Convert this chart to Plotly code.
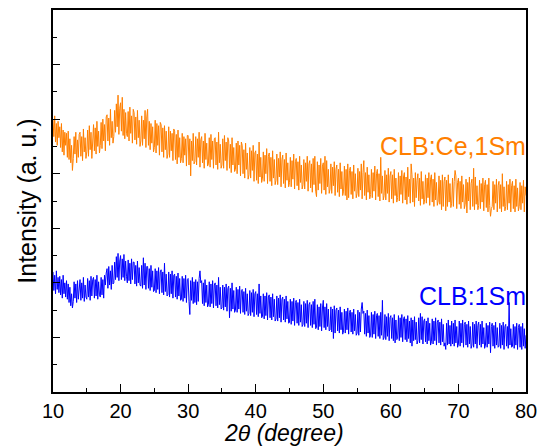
import numpy as np
import plotly.graph_objects as go

# Intensity (a.u.), CLB:Ce,1Sm (orange), 2theta 10..80 step 0.125
ce_1sm = [
    500, 468, 506, 458, 492, 452, 496, 466,
    486, 448, 492, 440, 480, 434, 476, 452,
    474, 430, 478, 426, 464, 420, 452, 406,
    428, 468, 436, 476, 420, 462, 430, 472,
    476, 432, 468, 424, 482, 440, 466, 428,
    440, 480, 432, 488, 444, 476, 428, 482,
    490, 442, 484, 436, 496, 450, 478, 438,
    452, 494, 446, 500, 460, 490, 442, 504,
    508, 460, 502, 452, 518, 466, 496, 456,
    468, 516, 476, 528, 486, 544, 472, 520,
    530, 478, 540, 470, 518, 464, 512, 474,
    468, 514, 460, 522, 474, 506, 456, 518,
    512, 462, 504, 454, 516, 466, 498, 450,
    460, 506, 452, 498, 464, 516, 448, 504,
    518, 452, 496, 444, 492, 456, 486, 440,
    448, 498, 438, 492, 452, 488, 434, 494,
    490, 440, 484, 430, 488, 444, 478, 428,
    436, 486, 430, 478, 442, 474, 424, 482,
    478, 426, 472, 418, 480, 430, 466, 420,
    428, 474, 420, 468, 434, 464, 414, 470,
    470, 416, 464, 396, 460, 424, 474, 418,
    422, 468, 416, 464, 430, 476, 412, 462,
    468, 420, 460, 410, 474, 426, 456, 414,
    418, 466, 412, 472, 426, 460, 410, 464,
    466, 416, 458, 408, 476, 420, 454, 410,
    416, 464, 410, 470, 424, 458, 406, 466,
    460, 410, 454, 402, 466, 416, 448, 404,
    408, 456, 400, 460, 416, 452, 396, 458,
    452, 400, 444, 392, 456, 408, 438, 390,
    398, 448, 392, 442, 406, 452, 386, 438,
    442, 388, 436, 382, 458, 394, 430, 384,
    392, 440, 386, 434, 400, 446, 382, 432,
    438, 386, 430, 378, 442, 392, 426, 380,
    388, 436, 380, 428, 394, 440, 376, 426,
    434, 382, 426, 374, 438, 388, 420, 376,
    384, 430, 376, 424, 390, 436, 372, 422,
    428, 378, 422, 370, 432, 384, 416, 372,
    380, 426, 372, 420, 386, 432, 368, 418,
    424, 374, 418, 366, 428, 380, 432, 368,
    358, 422, 370, 416, 382, 428, 364, 414,
    420, 370, 432, 362, 424, 376, 408, 364,
    372, 418, 364, 412, 378, 422, 360, 408,
    416, 366, 408, 358, 420, 372, 404, 360,
    368, 414, 360, 408, 352, 418, 356, 406,
    412, 362, 404, 354, 416, 368, 400, 356,
    364, 410, 358, 404, 370, 418, 354, 402,
    424, 360, 402, 352, 412, 366, 398, 354,
    362, 408, 356, 402, 368, 414, 352, 400,
    408, 358, 400, 350, 430, 364, 396, 352,
    360, 406, 352, 398, 364, 410, 348, 396,
    404, 354, 398, 346, 408, 360, 392, 348,
    356, 402, 350, 396, 362, 406, 346, 394,
    402, 352, 394, 344, 412, 358, 390, 346,
    418, 398, 348, 392, 340, 402, 356, 388,
    400, 350, 392, 342, 404, 354, 386, 344,
    352, 398, 346, 392, 356, 402, 342, 390,
    398, 348, 390, 340, 402, 352, 384, 342,
    350, 396, 344, 388, 334, 398, 340, 386,
    394, 332, 388, 340, 398, 348, 382, 338,
    346, 392, 340, 386, 406, 396, 336, 384,
    392, 344, 386, 336, 396, 348, 380, 336,
    344, 390, 328, 384, 350, 394, 334, 382,
    390, 340, 410, 334, 394, 344, 378, 334,
    342, 388, 336, 382, 348, 392, 332, 380,
    388, 338, 380, 330, 392, 342, 322, 336,
    340, 386, 334, 380, 346, 390, 330, 378,
    386, 336, 380, 330, 400, 340, 376, 332,
    340, 386, 334, 380, 346, 390, 330, 378,
    386, 336, 378, 330, 390, 340, 374, 332,
    340, 384, 334, 378, 346, 388, 330, 376,
    360,
]

# Intensity (a.u.), CLB:1Sm (blue), 2theta 10..80 step 0.125
sm_1 = [
    220, 186, 214, 180, 222, 188, 210, 182,
    212, 178, 206, 172, 214, 180, 200, 174,
    204, 170, 198, 164, 192, 158, 180, 154,
    166, 202, 172, 198, 164, 204, 170, 200,
    206, 168, 200, 172, 210, 166, 196, 174,
    170, 208, 174, 204, 168, 212, 176, 206,
    210, 172, 206, 176, 214, 170, 202, 178,
    174, 210, 178, 206, 172, 214, 196, 218,
    226, 190, 230, 196, 222, 188, 232, 198,
    200, 238, 206, 248, 210, 254, 204, 240,
    250, 206, 244, 210, 252, 204, 240, 212,
    200, 242, 204, 236, 198, 244, 206, 238,
    238, 198, 232, 194, 240, 200, 228, 196,
    194, 232, 190, 246, 196, 236, 188, 230,
    230, 190, 226, 186, 232, 192, 222, 184,
    186, 226, 182, 222, 188, 228, 180, 220,
    224, 182, 220, 178, 236, 184, 216, 176,
    178, 220, 174, 216, 180, 222, 172, 214,
    216, 174, 212, 170, 218, 176, 208, 168,
    170, 212, 166, 208, 172, 214, 164, 206,
    208, 166, 142, 204, 168, 210, 162, 202,
    164, 206, 160, 202, 166, 208, 222, 200,
    204, 162, 200, 158, 206, 164, 196, 156,
    160, 202, 156, 198, 162, 204, 154, 196,
    200, 158, 196, 154, 210, 160, 192, 152,
    154, 196, 150, 192, 156, 198, 148, 190,
    194, 136, 190, 148, 200, 152, 186, 146,
    150, 192, 146, 188, 152, 194, 144, 186,
    188, 146, 184, 142, 190, 148, 180, 140,
    144, 186, 140, 182, 146, 188, 138, 180,
    184, 142, 180, 138, 198, 144, 176, 136,
    138, 180, 134, 176, 140, 182, 132, 174,
    178, 136, 174, 132, 180, 138, 170, 130,
    134, 176, 130, 172, 136, 178, 128, 170,
    174, 132, 170, 128, 176, 134, 166, 126,
    128, 170, 124, 166, 130, 172, 122, 164,
    168, 126, 164, 122, 170, 128, 160, 120,
    124, 166, 120, 162, 126, 168, 118, 160,
    164, 122, 160, 118, 166, 124, 170, 116,
    118, 160, 114, 156, 120, 162, 112, 154,
    168, 118, 156, 114, 162, 120, 152, 112,
    114, 156, 110, 152,  98, 158, 108, 150,
    154, 112, 150, 108, 156, 114, 146, 106,
    112, 152, 108, 148, 114, 154, 106, 146,
    150, 110, 146, 106, 152, 112, 142, 104,
    108, 150, 104, 146, 110, 152, 164, 144,
    148, 106, 144, 102, 150, 108, 140, 100,
    104, 146, 100, 142, 106, 148,  98, 140,
    144, 102, 140,  98, 146, 104, 168,  96,
    100, 142,  96, 138, 102, 144,  94, 136,
    140,  98, 136,  94, 142,  90, 132,  96,
     98, 140,  94, 136, 100, 142,  92, 134,
    138,  96, 134,  92, 140,  98, 130,  90,
    136,  84, 132,  94, 138,  96, 128,  88,
     94, 136,  90, 144,  96, 138,  88, 130,
    134,  92, 130,  88, 136,  94, 126,  86,
     92, 134,  88, 130,  94, 136,  86, 128,
    132,  90, 128,  86, 134,  92, 124,  84,
     90,  78, 126,  86, 132,  88, 122,  84,
    130,  88, 126,  84, 132,  90, 120,  82,
     88, 130,  84, 126,  90, 132,  82, 124,
    128,  86, 124,  82, 130,  88, 120,  80,
     86, 128,  82, 124,  88, 130,  80, 122,
    128,  86, 124,  82, 130,  88, 118,  80,
     86, 126,  82, 122,  88, 128,  72, 120,
    126,  84, 122,  80, 128,  86, 118,  82,
     84, 126,  80, 122,  86, 128,  78, 120,
    124,  84, 120,  80, 164,  86, 116,  82,
     84, 124,  80, 120,  86, 126,  78, 118,
    124,  82, 120,  78, 126,  84, 116,  80,
    104,
]

theta_start, theta_end = 10.0, 80.0
x_ticks = [10, 20, 30, 40, 50, 60, 70, 80]
label_ce = "CLB:Ce,1Sm"
label_sm = "CLB:1Sm"
x_title = "<i>2θ (degree)</i>"
y_title = "Intensity (a. u.)"

x_ce = np.linspace(theta_start, theta_end, len(ce_1sm))
x_sm = np.linspace(theta_start, theta_end, len(sm_1))

ORANGE = "#FF7F00"
BLUE = "#0000FF"
FONT = "Liberation Sans, Arial, sans-serif"

fig = go.Figure()
fig.add_trace(go.Scatter(x=x_ce, y=ce_1sm, mode="lines",
                         line=dict(color=ORANGE, width=1), name=label_ce,
                         showlegend=False))
fig.add_trace(go.Scatter(x=x_sm, y=sm_1, mode="lines",
                         line=dict(color=BLUE, width=1), name=label_sm,
                         showlegend=False))

fig.add_annotation(x=80, y=450, xref="x", yref="y", text=label_ce,
                   showarrow=False, xanchor="right", yanchor="middle",
                   xshift=2, font=dict(family=FONT, size=25, color=ORANGE))
fig.add_annotation(x=80, y=176, xref="x", yref="y", text=label_sm,
                   showarrow=False, xanchor="right", yanchor="middle",
                   xshift=2, font=dict(family=FONT, size=25, color=BLUE))
# x-axis title
fig.add_annotation(x=0.5, y=0, xref="paper", yref="paper", text=x_title,
                   showarrow=False, xanchor="center", yanchor="bottom",
                   borderpad=0, xshift=-6, yshift=-55,
                   font=dict(family=FONT, size=23))

fig.update_layout(
    width=543, height=447,
    margin=dict(l=53, r=17, t=10, b=55, autoexpand=False),
    paper_bgcolor="white", plot_bgcolor="white",
    font=dict(family=FONT, color="black"),
)
fig.update_xaxes(
    range=[10, 80], tickvals=x_ticks, ticks="inside", ticklen=8, tickwidth=1,
    tickcolor="black", showline=True, linecolor="black", linewidth=1.5,
    mirror=True, showgrid=False, zeroline=False, automargin=False,
    tickfont=dict(size=20, family=FONT),
    minor=dict(ticks="inside", ticklen=4, tickcolor="black", dtick=5,
               tick0=5, showgrid=False),
)
fig.update_yaxes(
    range=[0, 700], dtick=100, tick0=0, ticks="inside", ticklen=7,
    tickwidth=1, tickcolor="black", showticklabels=False, showline=True,
    linecolor="black", linewidth=1.5, mirror=True, showgrid=False,
    zeroline=False, automargin=False,
    minor=dict(ticks="inside", ticklen=4, tickcolor="black", dtick=50,
               showgrid=False),
    title=dict(text=y_title, font=dict(size=25, family=FONT), standoff=8),
)

fig.write_html("out.html")
